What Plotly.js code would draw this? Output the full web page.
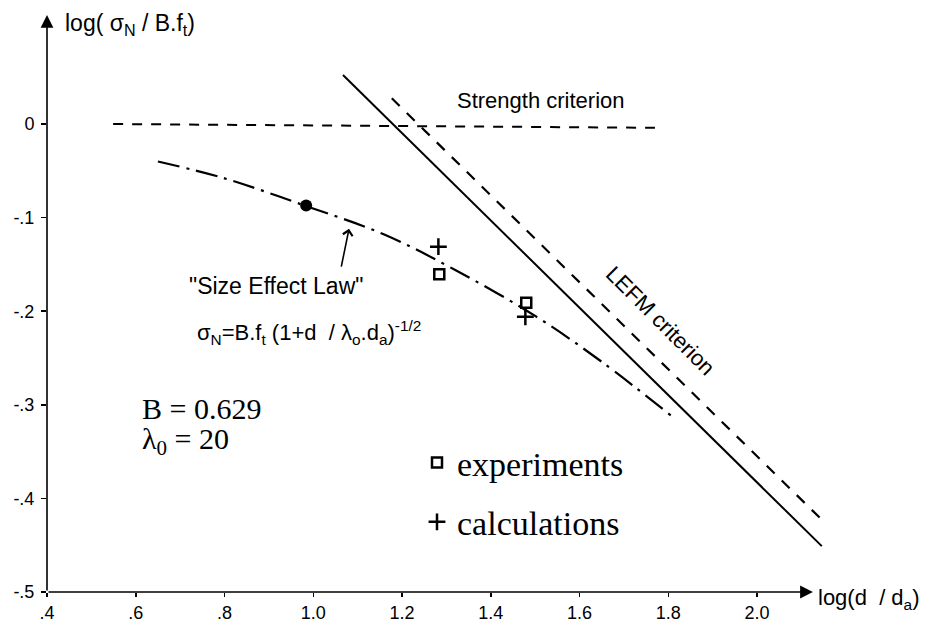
<!DOCTYPE html>
<html>
<head>
<meta charset="utf-8">
<script src="https://cdn.plot.ly/plotly-3.0.1.min.js"></script>
<style>html,body{margin:0;padding:0;background:#fff;}#chart{width:936px;height:623px;}</style>
</head>
<body>
<div id="chart"></div>
<script>
// ---- data ----
const xTickVals = [0.4, 0.6, 0.8, 1.0, 1.2, 1.4, 1.6, 1.8, 2.0];
const xTickText = ['.4', '.6', '.8', '1.0', '1.2', '1.4', '1.6', '1.8', '2.0'];
const yTickVals = [0, -0.1, -0.2, -0.3, -0.4, -0.5];
const yTickText = ['0', '-.1', '-.2', '-.3', '-.4', '-.5'];

const strengthX = [0.549, 1.77];
const strengthY = [0.0, -0.004];

const lefmSolidX = [1.067, 2.146];
const lefmSolidY = [0.0524, -0.451];

const lefmDashX = [1.177, 2.153];
const lefmDashY = [0.0275, -0.426];

const sizeEffectX = [0.65, 0.8, 0.98, 1.16, 1.32, 1.5, 1.65, 1.81];
const sizeEffectY = [-0.040, -0.058, -0.087, -0.118, -0.156, -0.205, -0.254, -0.313];

const dotX = [0.984];
const dotY = [-0.087];

const expX = [1.284, 1.48];
const expY = [-0.1606, -0.191];

const calcX = [1.282, 1.478];
const calcY = [-0.131, -0.206];

// ---- chart ----
const sans = 'Liberation Sans, Arial, sans-serif';
const serif = 'Liberation Serif, Times New Roman, serif';

const traces = [
  {x: strengthX, y: strengthY, mode: 'lines', line: {color: '#000', width: 2, dash: '10px,9px'}, showlegend: false, hoverinfo: 'skip'},
  {x: lefmSolidX, y: lefmSolidY, mode: 'lines', line: {color: '#000', width: 2}, showlegend: false, hoverinfo: 'skip'},
  {x: lefmDashX, y: lefmDashY, mode: 'lines', line: {color: '#000', width: 2.2, dash: '11px,10px'}, showlegend: false, hoverinfo: 'skip'},
  {x: sizeEffectX, y: sizeEffectY, mode: 'lines', line: {color: '#000', width: 2.2, dash: '22px,7px,3px,7px', shape: 'spline'}, showlegend: false, hoverinfo: 'skip'},
  {x: dotX, y: dotY, mode: 'markers', marker: {symbol: 'circle', size: 12, color: '#000'}, showlegend: false, hoverinfo: 'skip'},
  {x: expX, y: expY, mode: 'markers', name: 'experiments', legendgroup: 'a',
   marker: {symbol: 'square-open', size: 10, color: '#000', line: {width: 2.5, color: '#000'}}},
  {x: calcX, y: calcY, mode: 'markers', name: 'calculations', legendgroup: 'b',
   marker: {symbol: 'cross-thin-open', size: 12, color: '#000', line: {width: 2.5, color: '#000'}}}
];

const annotations = [
  // axis arrows
  {xref: 'x', yref: 'y', axref: 'x', ayref: 'y', x: 2.126, y: -0.5, ax: 0.4, ay: -0.5, text: '', showarrow: true, arrowhead: 2, arrowsize: 1.6, arrowwidth: 1.6, arrowcolor: '#000', standoff: 0, startstandoff: 0},
  {xref: 'x', yref: 'y', axref: 'x', ayref: 'y', x: 0.4, y: 0.1165, ax: 0.4, ay: -0.5, text: '', showarrow: true, arrowhead: 2, arrowsize: 1.6, arrowwidth: 1.6, arrowcolor: '#000', standoff: 0, startstandoff: 0},
  // axis titles
  {xref: 'paper', yref: 'paper', x: 0.0205, y: 0.983, xanchor: 'left', yanchor: 'middle', showarrow: false,
   text: 'log( σ<sub>N</sub> / B.f<sub>t</sub>)', font: {family: sans, size: 23, color: '#000'}},
  {xref: 'paper', yref: 'paper', x: 0.984, y: -0.012, xanchor: 'left', yanchor: 'middle', showarrow: false,
   text: 'log(d\u00a0 / d<sub>a</sub>)', font: {family: sans, size: 22, color: '#000'}},
  // labels
  {xref: 'x', yref: 'y', x: 1.513, y: 0.025, showarrow: false, text: 'Strength criterion', font: {family: sans, size: 22, color: '#000'}},
  {xref: 'x', yref: 'y', x: 1.782, y: -0.210, showarrow: false, textangle: 45, text: 'LEFM criterion', font: {family: sans, size: 22, color: '#000'}},
  {xref: 'x', yref: 'y', x: 0.916, y: -0.173, showarrow: false, text: '"Size Effect Law"', font: {family: sans, size: 23, color: '#000'}},
  {xref: 'x', yref: 'y', x: 0.99, y: -0.223, showarrow: false,
   text: 'σ<sub>N</sub>=B.f<sub>t</sub> (1+d\u00a0 / λ<sub>o</sub>.d<sub>a</sub>)<sup>-1/2</sup>', font: {family: sans, size: 22, color: '#000'}},
  {xref: 'paper', yref: 'paper', x: (140 - 47) / 781, y: (592 - 408) / 577, xanchor: 'left', yanchor: 'middle', showarrow: false,
   text: 'B = 0.629', font: {family: serif, size: 30, color: '#000'}},
  {xref: 'paper', yref: 'paper', x: (140 - 47) / 781, y: (592 - 441) / 577, xanchor: 'left', yanchor: 'middle', showarrow: false,
   text: 'λ<sub>0</sub> = 20', font: {family: serif, size: 30, color: '#000'}},
  // pointer arrow to the curve
  {xref: 'x', yref: 'y', axref: 'x', ayref: 'y', x: 1.0806, y: -0.112, ax: 1.0625, ay: -0.154, text: '', showarrow: true,
   arrowhead: 4, arrowsize: 1.2, arrowwidth: 1.6, arrowcolor: '#000', standoff: 0}
];

const layout = {
  width: 936, height: 623,
  margin: {l: 47, r: 108, t: 15, b: 31, pad: 0},
  paper_bgcolor: '#fff', plot_bgcolor: '#fff',
  xaxis: {range: [0.4, 2.16], showline: false, showgrid: false, zeroline: false,
    tickmode: 'array', tickvals: xTickVals, ticktext: xTickText,
    ticks: 'outside', ticklen: 4, tickwidth: 1.5, tickcolor: '#000',
    tickfont: {family: sans, size: 18, color: '#000'}},
  yaxis: {range: [-0.5, 0.1165], showline: false, showgrid: false, zeroline: false,
    tickmode: 'array', tickvals: yTickVals, ticktext: yTickText,
    ticks: 'outside', ticklen: 5, tickwidth: 1.5, tickcolor: '#000', ticklabelstandoff: 3,
    tickfont: {family: sans, size: 18, color: '#000'}},
  showlegend: true,
  legend: {x: (417 - 47) / 781, y: (592 - 434) / 577, xanchor: 'left', yanchor: 'top',
    bgcolor: 'rgba(0,0,0,0)', tracegroupgap: 12, font: {family: serif, size: 34, color: '#000'}},
  annotations: annotations
};

Plotly.newPlot('chart', traces, layout, {staticPlot: true, displayModeBar: false});
</script>
</body>
</html>
